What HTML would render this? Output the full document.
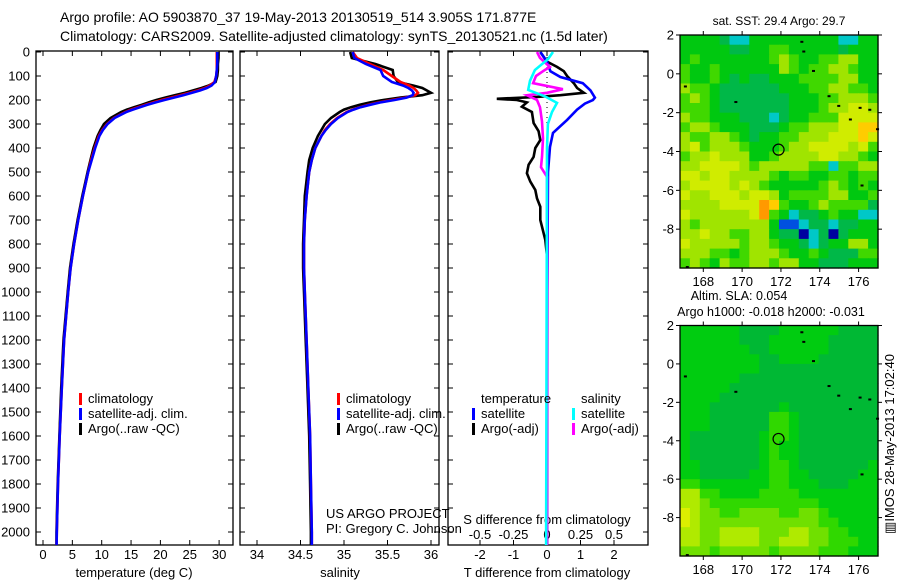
<!DOCTYPE html>
<html><head><meta charset="utf-8"><style>
html,body{margin:0;padding:0;background:#fff;}
svg{display:block;font-family:"Liberation Sans",Arial,sans-serif;}
</style></head><body>
<svg id="chart" width="900" height="580" viewBox="0 0 900 580" xmlns="http://www.w3.org/2000/svg">
<defs>
<clipPath id="c1"><rect x="36" y="51" width="197" height="494"/></clipPath>
<clipPath id="c2"><rect x="240" y="51" width="199" height="494"/></clipPath>
<clipPath id="c3"><rect x="448" y="51" width="200" height="494"/></clipPath>
</defs>
<text x="60" y="22" font-size="14">Argo profile: AO 5903870_37 19-May-2013 20130519_514 3.905S 171.877E</text>
<text x="60" y="41" font-size="14">Climatology: CARS2009. Satellite-adjusted climatology: synTS_20130521.nc (1.5d later)</text>
<g id="g"></g>
</svg>
<script>
// depth grid for profiles
const depths=[0,25,50,75,100,125,140,150,160,170,180,190,200,210,220,230,240,250,275,300,325,350,400,450,500,600,700,800,900,1000,1200,1400,1600,1800,2000,2080];
const tempArgo=[29.9,29.9,29.8,29.8,29.7,29.4,28.2,27.0,25.6,24.2,22.5,20.8,19.3,18.0,16.8,15.5,14.3,13.3,11.5,10.4,9.8,9.3,8.6,8.1,7.6,6.7,5.9,5.2,4.6,4.2,3.5,3.1,2.8,2.5,2.3,2.3];
const tempClim=[29.6,29.6,29.6,29.6,29.5,29.2,28.4,27.6,26.4,25.0,23.4,21.8,20.2,18.8,17.5,16.2,15.0,14.0,12.1,10.9,10.1,9.5,8.8,8.2,7.7,6.8,6.0,5.3,4.7,4.3,3.6,3.2,2.85,2.55,2.35,2.3];
const tempSat=[29.7,29.7,29.7,29.6,29.5,29.3,28.7,27.9,26.8,25.4,23.9,22.3,20.7,19.2,17.8,16.5,15.3,14.2,12.2,11.0,10.2,9.6,8.9,8.3,7.7,6.8,6.0,5.3,4.7,4.3,3.6,3.2,2.85,2.55,2.35,2.3];
const salArgo=[35.07,35.09,35.36,35.56,35.57,35.62,35.8,35.9,35.95,36.0,35.9,35.65,35.45,35.3,35.18,35.08,35.0,34.95,34.85,34.78,34.74,34.7,34.64,34.6,34.58,34.55,34.54,34.53,34.53,34.54,34.56,34.58,34.6,34.61,34.62,34.62];
const salClim=[35.1,35.15,35.3,35.45,35.55,35.65,35.75,35.8,35.83,35.85,35.82,35.7,35.55,35.4,35.28,35.18,35.1,35.03,34.92,34.84,34.78,34.74,34.67,34.63,34.6,34.57,34.55,34.54,34.54,34.55,34.57,34.59,34.61,34.62,34.63,34.63];
const salSat=[35.1,35.12,35.25,35.42,35.45,35.55,35.68,35.74,35.78,35.8,35.79,35.72,35.58,35.42,35.3,35.19,35.11,35.04,34.93,34.85,34.79,34.74,34.67,34.63,34.6,34.57,34.55,34.54,34.54,34.55,34.57,34.59,34.61,34.62,34.63,34.63];
// difference profiles
const dTArgoDepth=[0,20,40,62,80,100,130,150,170,180,187,195,200,210,228,250,296,330,367,400,437,470,505,540,575,610,645,700,728,783,850,1000,1500,2080];
const dTArgo=[-0.2,-0.1,0.0,0.3,0.5,0.6,0.8,0.9,1.1,0.4,-0.3,-1.5,-0.9,-0.6,-0.75,-0.45,-0.4,-0.25,-0.2,-0.35,-0.4,-0.55,-0.6,-0.5,-0.35,-0.3,-0.2,-0.2,-0.15,-0.05,0,0,0,0];
const dTSatDepth=[0,40,80,104,130,160,190,200,215,240,283,337,395,500,1000,2080];
const dTSat=[-0.2,0,0.1,0.4,1.07,1.3,1.43,1.37,1.13,0.9,0.6,0.18,0.09,0.03,0.01,0];
const dSSatDepth=[0,30,75,120,158,185,212,250,300,400,2080];
const dSSat=[0.045,0.007,-0.09,-0.127,-0.14,-0.015,0.075,0.037,0.007,0,-0.007];
const dSArgoDepth=[0,25,62,80,100,130,155,170,180,190,200,230,290,360,437,480,520,600,2080];
const dSArgo=[-0.075,-0.052,0.022,-0.03,-0.082,-0.104,0.119,0,-0.149,-0.112,-0.075,-0.052,-0.037,-0.03,-0.037,-0.045,0,0,0];
// axes ticks
const depthTicks=[0,100,200,300,400,500,600,700,800,900,1000,1100,1200,1300,1400,1500,1600,1700,1800,1900,2000];
const tempTicks=[0,5,10,15,20,25,30];
const salTicks=[34,34.5,35,35.5,36];
const tDiffTicks=[-2,-1,0,1,2];
const sDiffTicks=["-0.5","-0.25","0","0.25","0.5"];
const lonTicks=[168,170,172,174,176];
const latTicks=[2,0,-2,-4,-6,-8];
// map grids (rows lat 2 -> -10, cols lon 166.8 -> 177)
const sstGrid=["44443224444444442244","44444334455444443444","45444444456544556644","54454444446545566544","54454343344455556644","65543333334445566554","56543333333444556665","55543333333444566776","65544433323445557777","56654443334556667788","65566543445566677787","67566654445667777675","56676664456666776654","66777765666665525566","77677666654554455455","67777676544444565454","76677767764555566445","66667777985445655553","76666667954233454422","65666666641123323344","66766556643302303444","76666656654432344664","66655456665445433355","56546556656644333444"];
const slaGrid=["44444433334444443333","44444433344444433333","44444443344444433333","44444444334444333333","44444444333333333333","44444433333333333333","44444333333333333333","44443333333333333333","44433333334333333333","44433333355433333333","44433333355433333333","43333333455433333333","43333333454433333333","43333333454433333333","44333333455433333334","44333334455443333344","55444444455444333444","77554444555544444444","77655555555555444444","87665566665566544444","87666666666666554444","77667777666776655444","77667777667776655544","66656666656666555444"];
const sstColors=['#0000a0','#0050e0','#00c8c8','#00b848','#00c810','#40d800','#a0e400','#d0ec00','#ffcc00','#ff9900'];
const slaColors=['#0000a0','#0050e0','#00c8c8','#00b834','#00cc10','#30d800','#70e000','#b0ea00','#dcee00','#ffcc00'];
const floatLon=171.877, floatLat=-3.905;

const NS='http://www.w3.org/2000/svg';
const G=document.getElementById('g');
function mk(tag,attrs,parent){const e=document.createElementNS(NS,tag);for(const k in attrs)e.setAttribute(k,attrs[k]);(parent||G).appendChild(e);return e;}
const Y=d=>52+d*0.24;
const TX=t=>43+t*5.87;
const SX=s=>257+(s-34)*87;
const DT=v=>547+v*33.5;
const DS=v=>547+v*134;

function panel(x0,x1,name){
  const r=mk('rect',{x:x0,y:51,width:x1-x0,height:494,fill:'none',stroke:'#000','stroke-width':1.3});
  
  
  depthTicks.forEach(d=>{mk('line',{x1:x0,x2:x0+5,y1:Y(d),y2:Y(d),stroke:'#000'});mk('line',{x1:x1-5,x2:x1,y1:Y(d),y2:Y(d),stroke:'#000'});});
}
function xticks(vals,fx){vals.forEach(v=>{const x=fx(v);mk('line',{x1:x,x2:x,y1:51,y2:56,stroke:'#000'});mk('line',{x1:x,x2:x,y1:540,y2:545,stroke:'#000'});});}
function line(ds,vs,fx,color,clip,name,w){
  const p=mk('polyline',{points:ds.map((d,i)=>fx(vs[i]).toFixed(1)+','+Y(d).toFixed(1)).join(' '),fill:'none',stroke:color,'stroke-width':w||2.6,'clip-path':'url(#'+clip+')','stroke-linejoin':'miter'});
  
  
}
function txt(x,y,s,size,anchor,name){const t=mk('text',{x:x,y:y,'font-size':size,'text-anchor':anchor||'start'});t.textContent=s;return t;}

// Panel 1 temperature
panel(36,233,'temperature-panel');
xticks(tempTicks,TX);
depthTicks.forEach(d=>{txt(30,Y(d)+4.5,String(d),13,'end','depth-tick-label');});
tempTicks.forEach(t=>txt(TX(t),559,String(t),13,'middle','temperature-tick-label'));
txt(134,577,'temperature (deg C)',13,'middle','temperature-axis-title');
line(depths,tempArgo,TX,'#000','c1','temperature-argo-line');
line(depths,tempClim,TX,'#ff0000','c1','temperature-climatology-line');
line(depths,tempSat,TX,'#0000ff','c1','temperature-satellite-line');

// Panel 2 salinity
panel(240,439,'salinity-panel');
xticks(salTicks,SX);
salTicks.forEach(s=>txt(SX(s),559,String(s),13,'middle','salinity-tick-label'));
txt(340,577,'salinity',13,'middle','salinity-axis-title');
line(depths,salArgo,SX,'#000','c2','salinity-argo-line');
line(depths,salClim,SX,'#ff0000','c2','salinity-climatology-line');
line(depths,salSat,SX,'#0000ff','c2','salinity-satellite-line');

// Panel 3 differences
panel(448,648,'difference-panel');
xticks(tDiffTicks,DT);
mk('line',{x1:547,x2:547,y1:52,y2:544,stroke:'#000','stroke-width':1,'stroke-dasharray':'1,4'});
tDiffTicks.forEach(t=>txt(DT(t),559,String(t),13,'middle','t-diff-tick-label'));
sDiffTicks.forEach(s=>txt(DS(parseFloat(s)),539,s,13,'middle','s-diff-tick-label'));
txt(547,524,'S difference from climatology',13,'middle','s-diff-axis-title');
txt(547,577,'T difference from climatology',13,'middle','t-diff-axis-title');
line(dTArgoDepth,dTArgo,DT,'#000','c3','t-diff-argo-line');
line(dTSatDepth,dTSat,DT,'#0000ff','c3','t-diff-satellite-line');
line(dSArgoDepth,dSArgo,DS,'#ff00ff','c3','s-diff-argo-line');
line(dSSatDepth,dSSat,DS,'#00ffff','c3','s-diff-satellite-line');

// legends
function leg(x,y,color,label,name){mk('rect',{x:x,y:y-10,width:3,height:12,fill:color});txt(x+9,y,label,13,'start',name);}
leg(79,403,'#ff0000','climatology','legend-climatology');
leg(79,418,'#0000ff','satellite-adj. clim.','legend-satellite');
leg(79,433,'#000','Argo(..raw -QC)','legend-argo');
leg(337,403,'#ff0000','climatology','legend-climatology-2');
leg(337,418,'#0000ff','satellite-adj. clim.','legend-satellite-2');
leg(337,433,'#000','Argo(..raw -QC)','legend-argo-2');
txt(481,403,'temperature',13,'start','legend-temperature-heading');
txt(581,403,'salinity',13,'start','legend-salinity-heading');
leg(472,418,'#0000ff','satellite','legend-t-satellite');
leg(472,433,'#000','Argo(-adj)','legend-t-argo');
leg(572,418,'#00ffff','satellite','legend-s-satellite');
leg(572,433,'#ff00ff','Argo(-adj)','legend-s-argo');
txt(326,518,'US ARGO PROJECT',13,'start','project-credit');
txt(326,533,'PI: Gregory C. Johnson',13,'start','pi-credit');

// maps
function map(top,bottom,grid,colors,name){
  const L=680,R=878,lon0=166.8,lon1=177,lat0=2,lat1=-10;
  const MX=l=>L+(l-lon0)/(lon1-lon0)*(R-L);
  const MY=a=>top+(lat0-a)/(lat0-lat1)*(bottom-top);
  const g=mk('g',{});
  
  
  const nr=grid.length,nc=grid[0].length;
  grid.forEach((row,i)=>{for(let j=0;j<nc;j++){
    const la=lat0-(lat0-lat1)*i/nr, lo=lon0+(lon1-lon0)*j/nc;
    const x=MX(lo),y=MY(la),w=MX(lo+(lon1-lon0)/nc)-x,h=MY(la-(lat0-lat1)/nr)-y;
    const c=mk('rect',{x:x.toFixed(1),y:y.toFixed(1),width:(w+0.6).toFixed(1),height:(h+0.6).toFixed(1),fill:colors[+row[j]]},g);
    
    
  }});
  [[173.0,1.7],[173.1,1.2],[173.6,0.2],[174.4,-1.1],[174.9,-1.6],[176.0,-1.7],[176.5,-1.8],[175.5,-2.3],[176.9,-2.8],[167.0,-0.6],[169.6,-1.4],[176.1,-5.7],[167.1,-9.9]].forEach(p=>{
    mk('rect',{x:MX(p[0]),y:MY(p[1]),width:3,height:2,fill:'#000'},g);});
  mk('rect',{x:L,y:top,width:R-L,height:bottom-top,fill:'none',stroke:'#000','stroke-width':1.3});
  mk('circle',{cx:MX(floatLon),cy:MY(floatLat),r:5.5,fill:'none',stroke:'#000','stroke-width':1.2});
  lonTicks.forEach(l=>{mk('line',{x1:MX(l),x2:MX(l),y1:top-4,y2:top,stroke:'#000'});mk('line',{x1:MX(l),x2:MX(l),y1:bottom,y2:bottom+4,stroke:'#000'});
    txt(MX(l),bottom+18,String(l),13,'middle','longitude-tick-label');});
  latTicks.forEach(a=>{mk('line',{x1:R,x2:R+4,y1:MY(a),y2:MY(a),stroke:'#000'});mk('line',{x1:L-4,x2:L,y1:MY(a),y2:MY(a),stroke:'#000'});
    txt(674,MY(a)+4.5,String(a),13,'end','latitude-tick-label');});
}
map(35,268,sstGrid,sstColors,'sst-map');
map(325.5,556,slaGrid,slaColors,'sla-map');
txt(779,25,'sat. SST: 29.4 Argo: 29.7',12,'middle','sst-map-title');
txt(739,300,'Altim. SLA: 0.054',12.5,'middle','sla-value-label');
txt(771,316,'Argo h1000: -0.018 h2000: -0.031',12.5,'middle','steric-height-label');
const r=txt(0,0,'\u25A5IMOS 28-May-2013 17:02:40',13,'middle','imos-timestamp');
r.setAttribute('transform','translate(894,444) rotate(-90)');
</script>
</body></html>
